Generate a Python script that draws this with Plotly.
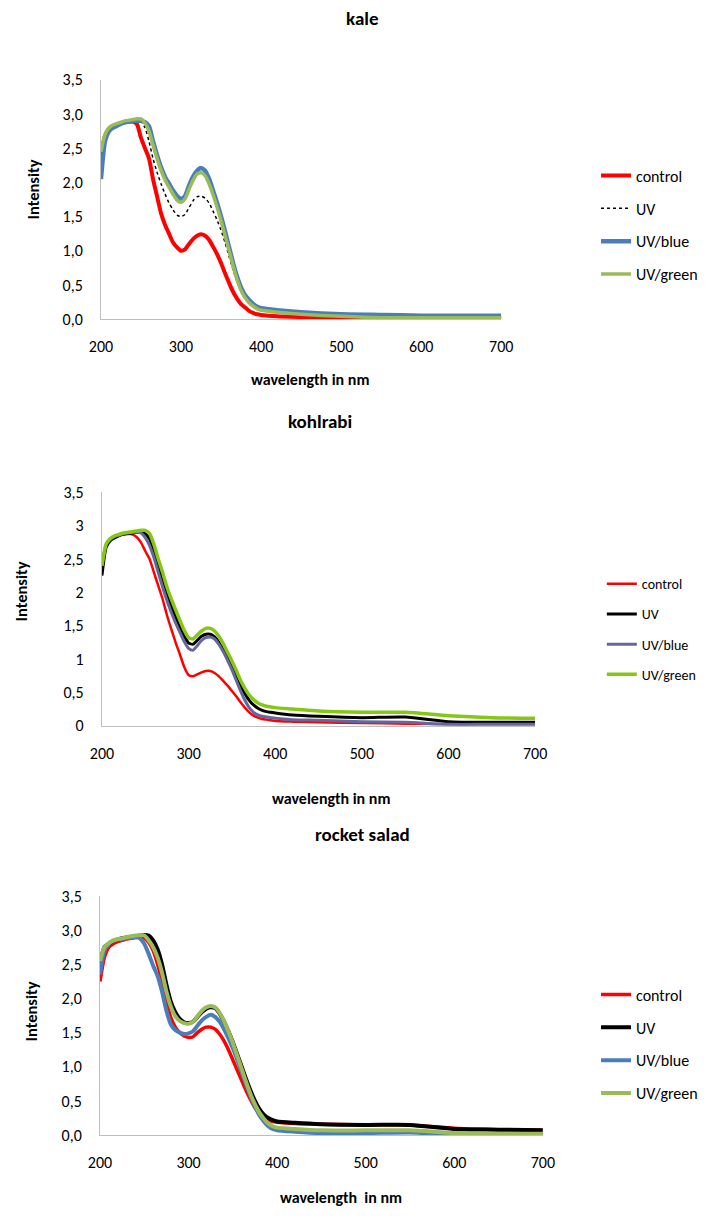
import plotly.graph_objects as go

# ---------------- data ----------------
wavelength = [200, 205, 210, 215, 220, 225, 230, 235, 240, 245, 250, 255, 260, 265, 270,
              275, 280, 285, 290, 295, 300, 305, 310, 315, 320, 325, 330, 335, 340, 345,
              350, 355, 360, 365, 370, 375, 380, 385, 390, 395, 400, 420, 450, 500, 550,
              600, 650, 700]

series_names = ["control", "UV", "UV/blue", "UV/green"]

kale_control = [2.35, 2.68, 2.78, 2.83, 2.85, 2.87, 2.88, 2.89, 2.89, 2.85, 2.65, 2.5, 2.35, 2.05, 1.8,
                1.55, 1.38, 1.25, 1.12, 1.05, 1.0, 1.02, 1.1, 1.17, 1.22, 1.24, 1.22, 1.16, 1.06, 0.95,
                0.82, 0.67, 0.53, 0.4, 0.3, 0.22, 0.17, 0.12, 0.09, 0.07, 0.06, 0.04, 0.03, 0.02, 0.02,
                0.01, 0.01, 0.01]
kale_uv = [2.4, 2.68, 2.78, 2.83, 2.85, 2.87, 2.88, 2.89, 2.9, 2.9, 2.88, 2.8, 2.6, 2.35, 2.15,
           1.98, 1.83, 1.7, 1.6, 1.52, 1.5, 1.53, 1.63, 1.73, 1.79, 1.8, 1.77, 1.7, 1.58, 1.45,
           1.3, 1.12, 0.92, 0.72, 0.55, 0.4, 0.3, 0.23, 0.18, 0.15, 0.13, 0.1, 0.07, 0.05, 0.04,
           0.03, 0.03, 0.03]
kale_blue = [2.05, 2.6, 2.75, 2.8, 2.83, 2.86, 2.88, 2.89, 2.9, 2.9, 2.9, 2.88, 2.82, 2.6, 2.4,
             2.22, 2.08, 1.98, 1.88, 1.8, 1.76, 1.8, 1.95, 2.08, 2.17, 2.21, 2.17, 2.05, 1.88, 1.7,
             1.5, 1.28, 1.05, 0.82, 0.62, 0.46, 0.35, 0.28, 0.22, 0.18, 0.16, 0.13, 0.1, 0.07, 0.06,
             0.05, 0.05, 0.05]
kale_green = [2.45, 2.7, 2.8, 2.84, 2.86, 2.88, 2.9, 2.91, 2.92, 2.93, 2.93, 2.87, 2.75, 2.55, 2.35,
              2.18, 2.04, 1.93, 1.83, 1.74, 1.71, 1.76, 1.9, 2.03, 2.12, 2.14, 2.1, 1.98, 1.82, 1.64,
              1.44, 1.22, 1.0, 0.78, 0.58, 0.42, 0.31, 0.24, 0.19, 0.15, 0.13, 0.1, 0.07, 0.04, 0.02,
              0.02, 0.02, 0.02]

kohl_control = [2.3, 2.7, 2.8, 2.84, 2.86, 2.87, 2.88, 2.87, 2.83, 2.75, 2.62, 2.5, 2.3, 2.1, 1.9,
                1.66, 1.45, 1.25, 1.07, 0.88, 0.76, 0.74, 0.77, 0.8, 0.82, 0.82, 0.79, 0.74, 0.67, 0.6,
                0.52, 0.44, 0.35, 0.27, 0.2, 0.15, 0.12, 0.1, 0.09, 0.08, 0.07, 0.06, 0.05, 0.04, 0.03,
                0.02, 0.02, 0.02]
kohl_uv = [2.25, 2.68, 2.78, 2.82, 2.85, 2.87, 2.88, 2.89, 2.9, 2.9, 2.88, 2.8, 2.62, 2.4, 2.18,
           1.98, 1.8, 1.63, 1.48, 1.34, 1.24, 1.22, 1.28, 1.34, 1.37, 1.37, 1.33, 1.25, 1.14, 1.02,
           0.88, 0.74, 0.6, 0.48, 0.38, 0.31, 0.26, 0.23, 0.21, 0.2, 0.19, 0.16, 0.14, 0.12, 0.13,
           0.06, 0.05, 0.05]
kohl_blue = [2.4, 2.72, 2.8, 2.84, 2.86, 2.88, 2.89, 2.9, 2.9, 2.89, 2.82, 2.7, 2.52, 2.3, 2.08,
             1.88, 1.7, 1.54, 1.4, 1.26, 1.16, 1.13, 1.2, 1.28, 1.32, 1.33, 1.3, 1.22, 1.11, 0.98,
             0.84, 0.68, 0.52, 0.38, 0.27, 0.2, 0.16, 0.14, 0.13, 0.12, 0.11, 0.09, 0.08, 0.06, 0.05,
             0.02, 0.02, 0.02]
kohl_green = [2.4, 2.73, 2.81, 2.85, 2.87, 2.89, 2.9, 2.91, 2.92, 2.93, 2.93, 2.88, 2.72, 2.5, 2.3,
              2.08, 1.9, 1.74, 1.58, 1.43, 1.32, 1.3, 1.36, 1.42, 1.46, 1.46, 1.42, 1.34, 1.23, 1.1,
              0.97, 0.83, 0.68, 0.56, 0.46, 0.39, 0.34, 0.31, 0.29, 0.28, 0.27, 0.25, 0.22, 0.2, 0.2,
              0.15, 0.12, 0.11]

rocket_control = [2.25, 2.6, 2.75, 2.8, 2.83, 2.85, 2.87, 2.88, 2.89, 2.9, 2.88, 2.82, 2.7, 2.5, 2.25,
                  1.95, 1.72, 1.58, 1.5, 1.45, 1.43, 1.44, 1.5, 1.55, 1.58, 1.58, 1.55, 1.48, 1.38, 1.25,
                  1.1, 0.95, 0.8, 0.65, 0.52, 0.4, 0.32, 0.26, 0.22, 0.2, 0.19, 0.17, 0.16, 0.15, 0.15,
                  0.1, 0.08, 0.07]
rocket_uv = [2.5, 2.75, 2.8, 2.84, 2.86, 2.88, 2.89, 2.9, 2.91, 2.92, 2.93, 2.92, 2.85, 2.72, 2.5,
             2.2, 1.95, 1.8, 1.7, 1.65, 1.64, 1.66, 1.73, 1.8, 1.85, 1.87, 1.86, 1.78, 1.66, 1.52,
             1.36, 1.18, 1.0, 0.82, 0.65, 0.5, 0.38, 0.3, 0.25, 0.22, 0.2, 0.18, 0.16, 0.15, 0.15,
             0.09, 0.08, 0.07]
rocket_blue = [2.35, 2.7, 2.8, 2.84, 2.86, 2.87, 2.88, 2.89, 2.9, 2.88, 2.8, 2.65, 2.48, 2.33, 2.1,
               1.82, 1.62, 1.54, 1.5, 1.48, 1.49, 1.52, 1.6, 1.68, 1.73, 1.76, 1.73, 1.66, 1.55, 1.42,
               1.27, 1.1, 0.92, 0.74, 0.57, 0.42, 0.29, 0.2, 0.13, 0.09, 0.07, 0.05, 0.03, 0.03, 0.04,
               0.01, 0.01, 0.01]
rocket_green = [2.55, 2.75, 2.81, 2.85, 2.87, 2.88, 2.9, 2.91, 2.92, 2.93, 2.92, 2.85, 2.75, 2.6, 2.38,
                2.1, 1.88, 1.74, 1.67, 1.64, 1.63, 1.66, 1.74, 1.82, 1.87, 1.89, 1.87, 1.79, 1.67, 1.52,
                1.35, 1.16, 0.97, 0.78, 0.6, 0.45, 0.33, 0.24, 0.17, 0.13, 0.11, 0.09, 0.07, 0.07, 0.07,
                0.03, 0.02, 0.02]

panel_titles = ["kale", "kohlrabi", "rocket salad"]
x_titles = ["wavelength in nm", "wavelength in nm", "wavelength  in nm"]
y_title = "Intensity"

# ---------------- styling ----------------
FONT = "Carlito, Lato, 'Liberation Sans', sans-serif"
W, H = 726, 1217

def px_x(v):
    return v / W

def px_y(v):
    return 1 - v / H

panels = [
    dict(data=[kale_control, kale_uv, kale_blue, kale_green],
         colors=["#FF0000", "#000000", "#4A7EBB", "#9BBB59"],
         widths=[4, 1.5, 4.5, 3.5], dashes=["solid", "dot", "solid", "solid"],
         xdom=(92, 506), ydom=(315, 72), tickfmt=".1f", legfont=16,
         leg=(604, 152), title=(362, 10), xt=(308, 376), yt=(22, 183)),
    dict(data=[kohl_control, kohl_uv, kohl_blue, kohl_green],
         colors=["#FF0000", "#000000", "#6565A0", "#86C714"],
         widths=[2.5, 3, 3, 3.5], dashes=["solid", "solid", "solid", "solid"],
         xdom=(93, 541), ydom=(728, 491), tickfmt="", legfont=14,
         leg=(610, 568), title=(319, 419), xt=(330, 802), yt=(9, 592)),
    dict(data=[rocket_control, rocket_uv, rocket_blue, rocket_green],
         colors=["#FF0000", "#000000", "#4A7EBB", "#9BBB59"],
         widths=[3.5, 4, 4, 4], dashes=["solid", "solid", "solid", "solid"],
         xdom=(91, 549), ydom=(1144, 901), tickfmt=".1f", legfont=16,
         leg=(604, 984), title=(362, 839), xt=(340, 1207), yt=(20, 1018)),
]

fig = go.Figure()
layout = dict(width=W, height=H, margin=dict(l=0, r=0, t=0, b=0),
              paper_bgcolor="white", plot_bgcolor="white",
              separators=",.", font=dict(family=FONT, color="#000000"),
              annotations=[], showlegend=True)

for i, p in enumerate(panels):
    n = "" if i == 0 else str(i + 1)
    legname = "legend" + n
    for j, name in enumerate(series_names):
        fig.add_trace(go.Scatter(
            x=wavelength, y=p["data"][j], mode="lines", name=name,
            line=dict(color=p["colors"][j], width=p["widths"][j], dash=p["dashes"][j],
                      shape="spline", smoothing=0.6),
            xaxis="x" + n, yaxis="y" + n, legend=legname,
            legendgroup=f"g{i}{j}",
        ))
    layout["xaxis" + n] = dict(
        domain=[px_x(p["xdom"][0]), px_x(p["xdom"][1])], anchor="y" + n,
        range=[200, 700], tickvals=[200, 300, 400, 500, 600, 700],
        showline=True, linecolor="#BFBFBF", linewidth=1, showgrid=False, zeroline=False,
        ticks="outside", ticklen=13, tickcolor="rgba(0,0,0,0)",
        tickfont=dict(size=16, family=FONT, color="#000000"))
    layout["yaxis" + n] = dict(
        domain=[px_y(p["ydom"][0]), px_y(p["ydom"][1])], anchor="x" + n,
        range=[0, 3.5], dtick=0.5, tick0=0, tickformat=p["tickfmt"],
        showline=True, linecolor="#BFBFBF", linewidth=1, showgrid=False, zeroline=False,
        ticks="outside", ticklen=14, tickcolor="rgba(0,0,0,0)",
        tickfont=dict(size=16, family=FONT, color="#000000"))
    layout[legname] = dict(
        x=px_x(p["leg"][0]), y=px_y(p["leg"][1]), xanchor="left", yanchor="top",
        bgcolor="rgba(0,0,0,0)", borderwidth=0, tracegroupgap=9, itemwidth=30,
        font=dict(size=p["legfont"], family=FONT, color="#000000"))
    layout["annotations"] += [
        dict(text=f"<b>{panel_titles[i]}</b>", x=px_x(p["title"][0]), y=px_y(p["title"][1]),
             xref="paper", yref="paper", showarrow=False, xanchor="center", yanchor="middle",
             font=dict(size=19, family=FONT, color="#000000")),
        dict(text=f"<b>{x_titles[i]}</b>", x=px_x(p["xt"][0]), y=px_y(p["xt"][1]),
             xref="paper", yref="paper", showarrow=False, xanchor="center", yanchor="middle",
             font=dict(size=16, family=FONT, color="#000000")),
        dict(text=f"<b>{y_title}</b>", x=px_x(p["yt"][0]), y=px_y(p["yt"][1]),
             xref="paper", yref="paper", showarrow=False, xanchor="center", yanchor="middle",
             textangle=-90, font=dict(size=16.5, family=FONT, color="#000000")),
    ]

fig.update_layout(**layout)
fig.write_html("out.html", config={"displayModeBar": False},
               post_script="document.body.style.margin='0';")
